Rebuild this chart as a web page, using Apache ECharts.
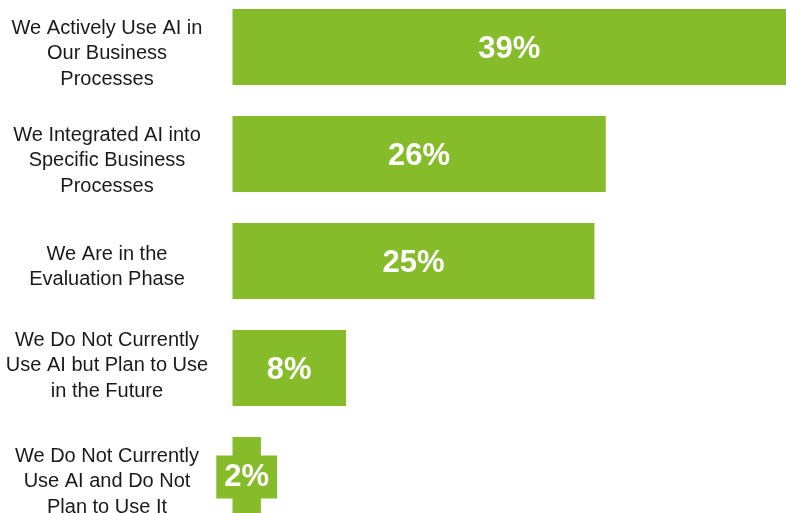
<!DOCTYPE html>
<html>
<head>
<meta charset="utf-8">
<script src="https://cdn.jsdelivr.net/npm/echarts@6/dist/echarts.min.js"></script>
<style>
html,body{margin:0;padding:0;background:#fff;}
#chart{width:786px;height:513px;}
</style>
</head>
<body>
<div id="chart"></div>
<script>
const categories = [
  "We Actively Use AI in\nOur Business\nProcesses",
  "We Integrated AI into\nSpecific Business\nProcesses",
  "We Are in the\nEvaluation Phase",
  "We Do Not Currently\nUse AI but Plan to Use\nin the Future",
  "We Do Not Currently\nUse AI and Do Not\nPlan to Use It"
];
const values = [39, 26.3, 25.5, 8, 2];
const valueLabels = ["39%", "26%", "25%", "8%", "2%"];

const GREEN = "#86BC29";
const chart = echarts.init(document.getElementById('chart'), null, {renderer: 'canvas'});

// vertical nudge (px) of each category label relative to its bar centre
const labelShift = [6.5, 6.5, 6, -2.5, 6.5];
const richStyles = {
  t: {fontSize: 20, lineHeight: 25.5, color: '#1a1a1a', fontFamily: '"Liberation Sans", Arial, sans-serif', align: 'center'}
};
labelShift.forEach((s, i) => {
  richStyles['sp' + i] = {fontSize: 1, lineHeight: Math.abs(s) * 2, height: Math.abs(s) * 2};
});

function formatCategory(value, index) {
  const lines = value.split('\n').map(l => '{t|' + l + '}');
  const s = labelShift[index] || 0;
  if (s > 0) lines.unshift('{sp' + index + '| }');
  if (s < 0) lines.push('{sp' + index + '| }');
  return lines.join('\n');
}

const seriesData = values.map((v, i) => {
  if (v < 5) {
    return {
      value: v,
      label: {backgroundColor: GREEN, padding: [6, 8, 6, 8]}
    };
  }
  return v;
});

chart.setOption({
  animation: false,
  backgroundColor: '#fff',
  grid: {left: 232.5, right: 0, top: -6.5, bottom: -15.5, containLabel: false, outerBoundsMode: 'none'},
  xAxis: {
    type: 'value', min: 0, max: 39, show: false
  },
  yAxis: {
    type: 'category',
    inverse: true,
    data: categories,
    axisLine: {show: false},
    axisTick: {show: false},
    axisLabel: {
      align: 'center',
      margin: 125.5,
      formatter: formatCategory,
      rich: richStyles,
      fontFamily: '"Liberation Sans", Arial, sans-serif',
      fontSize: 20,
      lineHeight: 25.5,
      color: '#1a1a1a'
    }
  },
  series: [{
    type: 'bar',
    data: seriesData,
    barWidth: 76,
    itemStyle: {color: GREEN},
    label: {
      show: true,
      position: 'inside',
      offset: [0, 2],
      formatter: p => valueLabels[p.dataIndex],
      color: '#fff',
      fontWeight: 'bold',
      fontSize: 31,
      fontFamily: '"Liberation Sans", Arial, sans-serif'
    }
  }]
});
</script>
</body>
</html>
